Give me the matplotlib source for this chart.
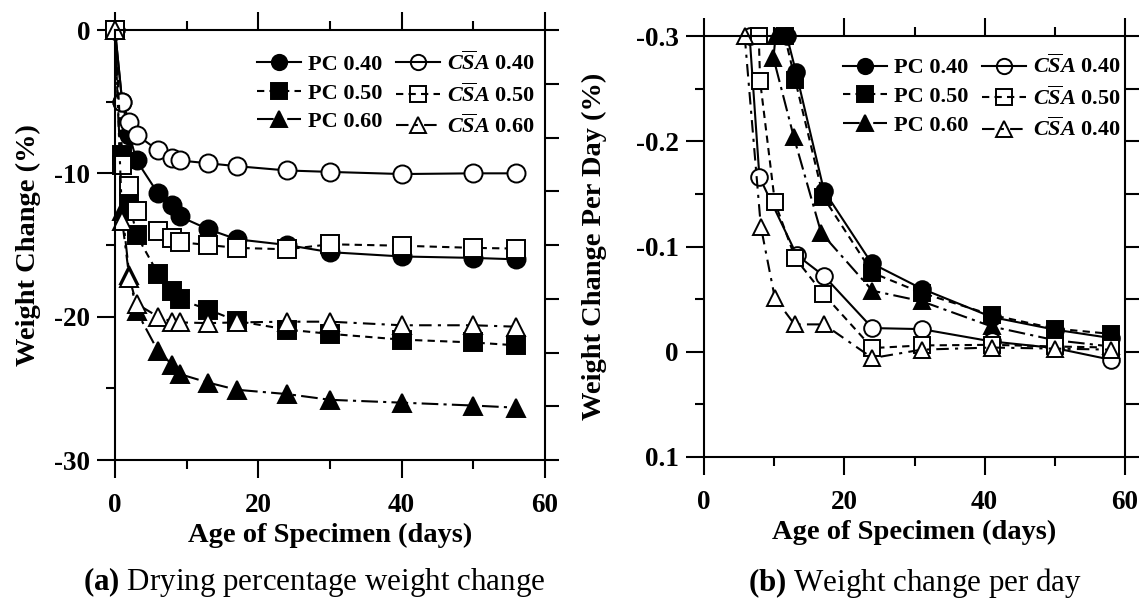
import matplotlib
matplotlib.use("Agg")
import matplotlib.pyplot as plt
from matplotlib.lines import Line2D
import numpy as np

plt.rcParams['font.family'] = ['Liberation Serif', 'DejaVu Serif']
plt.rcParams['font.weight'] = 'bold'
plt.rcParams['mathtext.fontset'] = 'custom'
plt.rcParams['mathtext.it'] = 'Liberation Serif:italic:bold'
plt.rcParams['mathtext.rm'] = 'Liberation Serif:bold'
plt.rcParams['mathtext.bf'] = 'Liberation Serif:bold'
plt.rcParams['axes.unicode_minus'] = False

# (a) drying percentage weight change
days_a = [0, 1, 2, 3, 6, 8, 9, 13, 17, 24, 30, 40, 50, 56]
pc40_a = [0, -5.0, -7.3, -9.1, -11.4, -12.2, -13.0, -13.9, -14.6, -15.0, -15.5, -15.8, -15.9, -16.0]
pc50_a = [0, -8.7, -12.0, -14.3, -17.0, -18.2, -18.8, -19.5, -20.3, -20.9, -21.2, -21.6, -21.8, -22.0]
pc60_a = [0, -12.6, -17.1, -19.6, -22.4, -23.35, -24.0, -24.6, -25.1, -25.4, -25.8, -26.0, -26.2, -26.35]
csa40_a = [0, -5.0, -6.4, -7.3, -8.4, -8.9, -9.1, -9.3, -9.5, -9.8, -9.9, -10.05, -10.0, -10.0]
csa50_a = [0, -9.4, -10.9, -12.6, -14.0, -14.5, -14.8, -15.0, -15.2, -15.3, -14.95, -15.05, -15.2, -15.25]
csa60_a = [0, -13.3, -17.3, -19.1, -20.0, -20.35, -20.4, -20.45, -20.4, -20.35, -20.35, -20.6, -20.6, -20.7]

# (b) weight change per day
pc40_bx = [11.8, 13.1, 17.1, 23.9, 31, 41, 50, 58]
pc40_b = [-0.3, -0.266, -0.153, -0.084, -0.060, -0.033, -0.021, -0.013]
pc50_bx = [11.5, 13, 17, 24, 31, 41, 50, 58]
pc50_b = [-0.3, -0.258, -0.147, -0.075, -0.056, -0.035, -0.022, -0.017]
pc60_bx = [10.2, 9.9, 12.8, 16.7, 24, 31, 41, 50, 58]
pc60_b = [-0.3, -0.279, -0.204, -0.113, -0.058, -0.048, -0.024, -0.011, -0.005]
csa40_bx = [6.5, 7.9, 13.2, 17.1, 24, 31, 41, 50, 58]
csa40_b = [-0.3, -0.166, -0.092, -0.072, -0.0225, -0.0215, -0.0098, -0.0035, 0.0076]
csa50_bx = [7.8, 8.0, 10.1, 13, 17, 24, 31, 41, 50, 58]
csa50_b = [-0.3, -0.257, -0.142, -0.089, -0.055, -0.0035, -0.006, -0.0066, -0.005, -0.004]
csa60_bx = [5.8, 8.1, 10.1, 12.9, 17.1, 24, 31, 41, 50, 58]
csa60_b = [-0.3, -0.119, -0.051, -0.026, -0.026, 0.006, -0.002, -0.004, -0.003, -0.002]

csa = r'$C\overline{S}A$'
labels_a = ['PC 0.40', 'PC 0.50', 'PC 0.60', csa + ' 0.40', csa + ' 0.50', csa + ' 0.60']
labels_b = ['PC 0.40', 'PC 0.50', 'PC 0.60', csa + ' 0.40', csa + ' 0.50', csa + ' 0.40']

k = 'black'
styles = [
    dict(ls='-', marker='o', mfc=k),
    dict(ls=(0, (3.5, 2.5)), marker='s', mfc=k),
    dict(ls=(0, (8, 2.5, 1.5, 2.5)), marker='^', mfc=k),
    dict(ls='-', marker='o', mfc='white'),
    dict(ls=(0, (3.5, 2.5)), marker='s', mfc='white'),
    dict(ls=(0, (6, 3, 1.5, 3)), marker='^', mfc='white'),
]

fig = plt.figure(figsize=(11.42, 6.05), dpi=100)
axa = fig.add_axes([115 / 1142, 1 - 460 / 605, 430 / 1142, 430 / 605])
axb = fig.add_axes([704 / 1142, 1 - 457 / 605, 421 / 1142, 421 / 605])

def draw(ax, xs, ys, ms):
    for x, y, st in zip(xs, ys, styles):
        ax.plot(x, y, color=k, lw=1.5, ls=st['ls'], marker=st['marker'], ms=ms,
                mfc=st['mfc'], mec=k, mew=1.4, clip_on=False)

def legend(ax, labels, anchor):
    hs = []
    for st in styles:
        fc = k if st['mfc'] == k else 'none'
        hs.append(Line2D([], [], color=k, lw=1.5, ls=st['ls'], marker=st['marker'],
                         ms=11, mfc=fc, mec=k, mew=1.4))
    ax.legend(hs, labels, ncol=2, loc='upper left', bbox_to_anchor=anchor,
              frameon=False, borderpad=0, borderaxespad=0, handlelength=2.0,
              handletextpad=0.3, columnspacing=0.6, labelspacing=0.36,
              prop=dict(size=16, weight='bold'))

def style(ax, xmaj, ymaj, ymin, rticks, lim):
    for s in ax.spines.values():
        s.set_linewidth(1.5)
    ax.set_xlim(0, 60)
    ax.set_ylim(*lim)
    ax.set_xticks([0, 20, 40, 60])
    ax.set_xticks([10, 30, 50], minor=True)
    ax.set_xticklabels(['0', '20', '40', '60'])
    ax.set_yticks(ymaj)
    ax.set_yticks(ymin, minor=True)
    ax.set_yticklabels(xmaj)
    ax.tick_params(which='both', direction='out', width=1.5, top=True, right=False,
                   labelsize=19.5)
    ax.tick_params(axis='y', pad=5)
    ax.tick_params(axis='x', pad=11)
    ax.tick_params(which='major', length=13)
    ax.tick_params(which='minor', length=6.5)
    tw = ax.twinx()
    tw.set_ylim(*lim)
    tw.set_yticks(rticks)
    tw.set_yticklabels([])
    tw.tick_params(direction='out', width=1.5, length=10)
    for s in tw.spines.values():
        s.set_visible(False)
    ax.set_xlabel('Age of Specimen (days)', fontsize=20.5, fontweight='bold', labelpad=3)

draw(axa, [days_a] * 6, [pc40_a, pc50_a, pc60_a, csa40_a, csa50_a, csa60_a], 13)
style(axa, ['0', '-10', '-20', '-30'], [0, -10, -20, -30], [-5, -15, -25],
      np.linspace(0, -30, 9), (-30, 0))
axa.set_ylabel('Weight Change (%)', fontsize=20.5, fontweight='bold')
axa.yaxis.set_label_coords(-0.172, 0.5)
legend(axa, labels_a, (0.33, 0.95))

draw(axb, [pc40_bx, pc50_bx, pc60_bx, csa40_bx, csa50_bx, csa60_bx],
     [pc40_b, pc50_b, pc60_b, csa40_b, csa50_b, csa60_b], 12)
style(axb, ['-0.3', '-0.2', '-0.1', '0', '0.1'], [-0.3, -0.2, -0.1, 0, 0.1],
      [-0.25, -0.15, -0.05, 0.05], np.linspace(-0.3, 0.1, 9), (0.1, -0.3))
axb.set_ylabel('Weight Change Per Day (%)', fontsize=20.5, fontweight='bold')
axb.yaxis.set_label_coords(-0.23, 0.5)
legend(axb, labels_b, (0.33, 0.955))

fig.text(314 / 1142, 1 - 582 / 605, r'$\mathbf{(a)}$ Drying percentage weight change',
         fontsize=22.3, fontweight='normal', ha='center', va='center')
fig.text(915 / 1142, 1 - 583 / 605, r'$\mathbf{(b)}$ Weight change per day',
         fontsize=22.3, fontweight='normal', ha='center', va='center')

fig.savefig('out.png', dpi=100)
